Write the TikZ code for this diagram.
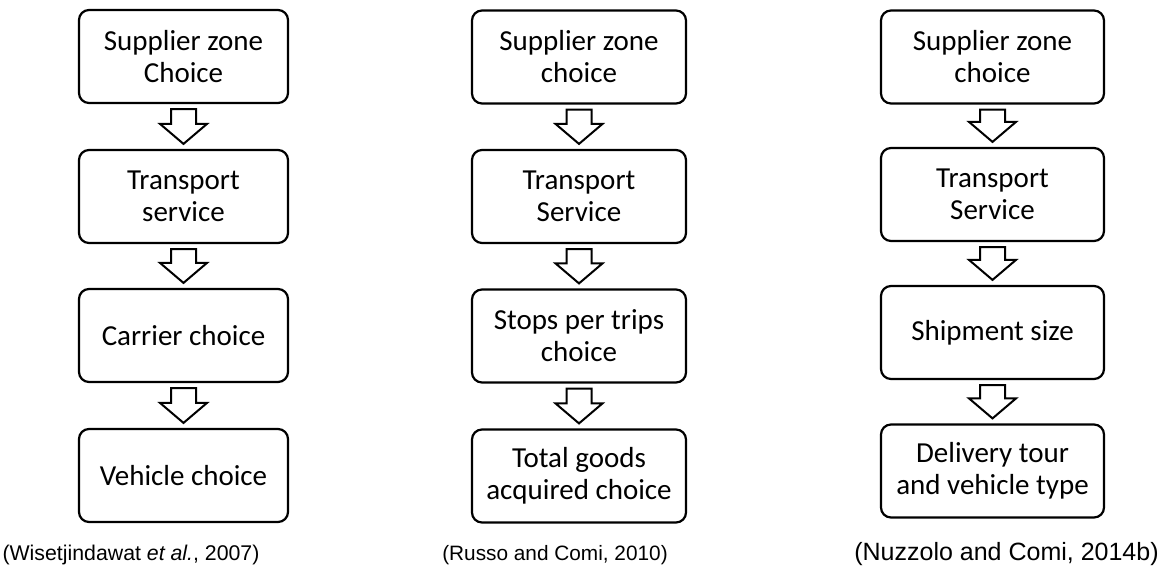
\documentclass[tikz,border=0pt]{standalone}
\usepackage{fontspec}
\setmainfont{Carlito}
\newfontfamily\capfont{Liberation Sans}
\usetikzlibrary{calc}

\tikzset{
  stagebox/.style={draw=black, line width=2.2pt, rounded corners=10pt, fill=white,
    align=center, inner sep=0pt, minimum height=93pt,
    font=\fontsize{29}{32}\selectfont},
  blockarr/.style={draw=black, line width=2pt, fill=white, line join=miter},
  cite/.style={anchor=base, inner sep=0pt, font=\capfont\fontsize{20.8}{24}\selectfont},
}

% hollow block arrow from the bottom of one box to the top of the next
\newcommand{\flowarrow}[2]{%
  \draw[blockarr] let \p1=($(#1.south)+(0,5)$), \p2=($(#2.north)+(0,-5)$) in
    (\x1-12.5pt,\y1) -- (\x1+12.5pt,\y1) -- (\x1+12.5pt,\y2+20pt)
    -- (\x1+23.5pt,\y2+20pt) -- (\x1,\y2) -- (\x1-23.5pt,\y2+20pt)
    -- (\x1-12.5pt,\y2+20pt) -- cycle;}

\begin{document}
\begin{tikzpicture}[x=1pt, y=-1pt]
\useasboundingbox (0,0) rectangle (1166,577);

% left chain
\node[stagebox, minimum width=209pt] (a1) at (183.5,56.5) {Supplier zone\\Choice};
\node[stagebox, minimum width=209pt] (a2) at (183.5,196.5) {Transport\\service};
\node[stagebox, minimum width=209pt] (a3) at (183.5,335.5) {Carrier choice};
\node[stagebox, minimum width=209pt] (a4) at (183.5,475.5) {Vehicle choice};
\flowarrow{a1}{a2}
\flowarrow{a2}{a3}
\flowarrow{a3}{a4}
\node[cite, font=\capfont\fontsize{21.3}{24}\selectfont] (ca) at (131,560) {(Wisetjindawat \textit{et al.}, 2007)};

% middle chain
\node[stagebox, minimum width=214pt] (b1) at (579,57) {Supplier zone\\choice};
\node[stagebox, minimum width=214pt] (b2) at (579,196.5) {Transport\\Service};
\node[stagebox, minimum width=214pt] (b3) at (579,336) {Stops per trips\\choice};
\node[stagebox, minimum width=214pt] (b4) at (579,476) {Total goods\\acquired choice};
\flowarrow{b1}{b2}
\flowarrow{b2}{b3}
\flowarrow{b3}{b4}
\node[cite] (cb) at (555,560) {(Russo and Comi, 2010)};

% right chain
\node[stagebox, minimum width=223pt] (c1) at (992.5,57) {Supplier zone\\choice};
\node[stagebox, minimum width=223pt] (c2) at (992.5,194.5) {Transport\\Service};
\node[stagebox, minimum width=223pt] (c3) at (992.5,332.5) {Shipment size};
\node[stagebox, minimum width=223pt] (c4) at (992.5,471) {Delivery tour\\and vehicle type};
\flowarrow{c1}{c2}
\flowarrow{c2}{c3}
\flowarrow{c3}{c4}
\node[cite, font=\capfont\fontsize{25}{28}\selectfont] (cc) at (1006.5,560) {(Nuzzolo and Comi, 2014b)};
\end{tikzpicture}
\end{document}
